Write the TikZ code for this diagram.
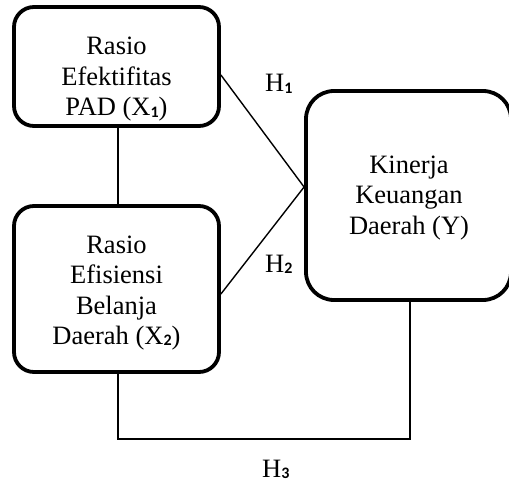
\documentclass[tikz,border=0pt]{standalone}
\usepackage{fontspec}
\setmainfont{Liberation Serif}
\newfontfamily\subfont{Carlito}
\usetikzlibrary{calc}
\newcommand\subnum[1]{{\subfont\bfseries\fontsize{16}{16}\selectfont\raisebox{-0.15ex}{#1}}}
\begin{document}
\begin{tikzpicture}[x=1pt,y=-1pt,
  box/.style={draw, line width=3.8pt, inner sep=0pt, minimum width=205pt},
  txt/.style={font=\fontsize{26.5}{30.5}\selectfont, align=center, inner sep=0pt},
  link/.style={line width=1.4pt}]
\useasboundingbox (0,0) rectangle (509,484);
\node[box, rounded corners=20pt, minimum height=119pt] (b1) at (116.5,66.5) {};
\node[box, rounded corners=20pt, minimum height=166pt] (b2) at (116.5,289) {};
\node[box, rounded corners=28pt, minimum height=209pt] (b3) at (408.5,195.5) {};
\node[txt] (t1) at (116.5,79.5) {Rasio\\Efektifitas\\PAD (X\subnum{1})};
\node[txt] (t2) at (116.5,293) {Rasio\\Efisiensi\\Belanja\\Daerah (X\subnum{2})};
\node[txt] (t3) at (409,198) {Kinerja\\Keuangan\\Daerah (Y)};
\coordinate (j) at ($(b3.west)+(0,-8.5)$);
\draw[link] ($(b1.east)+(0,8.5)$) -- (j);
\draw[link] ($(b2.east)+(0,5)$) -- (j);
\draw[link] ($(b1.south)+(1.5,0)$) -- ($(b2.north)+(1.5,0)$);
\draw[link] ($(b2.south)+(1.5,0)$) -- ++(0,65) -| ($(b3.south)+(1.5,0)$);
\node[txt, anchor=base west] (h1) at (265,92) {H\subnum{1}};
\node[txt, anchor=base west] (h2) at (265,272) {H\subnum{2}};
\node[txt, anchor=base west] (h3) at (262,477) {H\subnum{3}};
\end{tikzpicture}
\end{document}
